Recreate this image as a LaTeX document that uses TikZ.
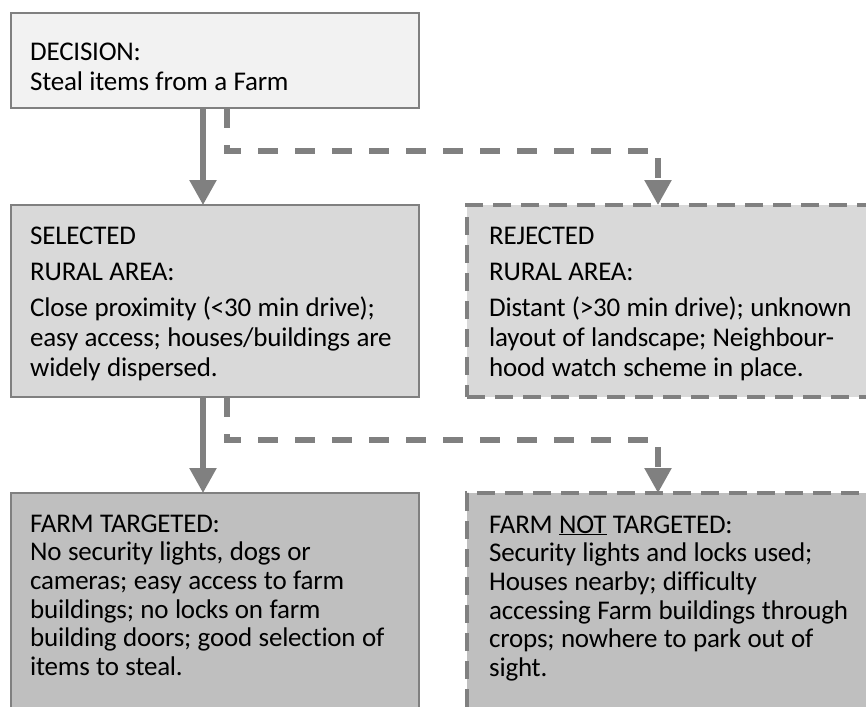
\documentclass[tikz,border=0pt]{standalone}
\usepackage{fontspec}
\setmainfont{Carlito}[LetterSpace=-0.8, Ligatures=CommonOff]
\usetikzlibrary{arrows.meta}
\definecolor{linegray}{HTML}{808080}
\definecolor{fillA}{HTML}{F2F2F2}
\definecolor{fillB}{HTML}{D9D9D9}
\definecolor{fillC}{HTML}{BFBFBF}
\begin{document}
\begin{tikzpicture}[x=1pt,y=-1pt,
  box/.style={rectangle, draw=linegray, line width=1.8pt, anchor=north west, inner sep=0pt, outer sep=0pt},
  dbox/.style={box, line width=3.5pt, dash pattern=on 18pt off 10pt},
  txt/.style={anchor=base west, inner sep=0pt, align=left, text width=420pt, font=\fontsize{27}{30}\selectfont, execute at begin node={\spaceskip=6.4pt plus 1pt minus 1pt\relax}},
  txtb/.style={txt, font=\fontsize{27}{28.7}\selectfont},
  conn/.style={draw=linegray, line width=5.5pt, -{Triangle[width=26pt,length=25pt]}},
  dconn/.style={conn, dash pattern=on 20pt off 17pt}]
\useasboundingbox (0,0) rectangle (866,706);
\clip (0,0) rectangle (866,706);
\fill[white] (0,0) rectangle (866,706);
\node[box, fill=fillA, minimum width=408pt, minimum height=95pt] (dec) at (11,13) {};
\node[box, fill=fillB, minimum width=408pt, minimum height=192pt] (sel) at (11,205) {};
\node[dbox, fill=fillB, minimum width=430pt, minimum height=192pt] (rej) at (467,205) {};
\node[box, fill=fillC, minimum width=408pt, minimum height=260pt] (tgt) at (11,493) {};
\node[dbox, fill=fillC, minimum width=430pt, minimum height=260pt] (ntgt) at (467,493) {};
\draw[conn] ([xshift=192pt]dec.south west) -- ([xshift=192pt]sel.north west);
\draw[dconn] ([xshift=216pt]dec.south west) -- ++(0,43) -| ([xshift=191pt]rej.north west);
\draw[conn] ([xshift=192pt]sel.south west) -- ([xshift=192pt]tgt.north west);
\draw[dconn] ([xshift=216pt]sel.south west) -- ++(0,43) -| ([xshift=191pt]ntgt.north west);
\node[txt] (dect) at (30,61) {DECISION:\\Steal items from a Farm};
\node[txt] (selt) at (30,244) {SELECTED\\[6pt]RURAL AREA:\\[6pt]Close proximity (<30 min drive);\\easy access; houses/buildings are\\widely dispersed.};
\node[txt] (rejt) at (489,244) {REJECTED\\[6pt]RURAL AREA:\\[6pt]Distant (>30 min drive); unknown\\layout of landscape; Neighbour-\\hood watch scheme in place.};
\node[txtb] (tgtt) at (30,532) {FARM TARGETED:\\No security lights, dogs or\\cameras; easy access to farm\\buildings; no locks on farm\\building doors; good selection of\\items to steal.};
\node[txtb] (ntgtt) at (489,533) {FARM \underline{NOT} TARGETED:\\Security lights and locks used;\\Houses nearby; difficulty\\accessing Farm buildings through\\crops; nowhere to park out of\\sight.};
\end{tikzpicture}
\end{document}
